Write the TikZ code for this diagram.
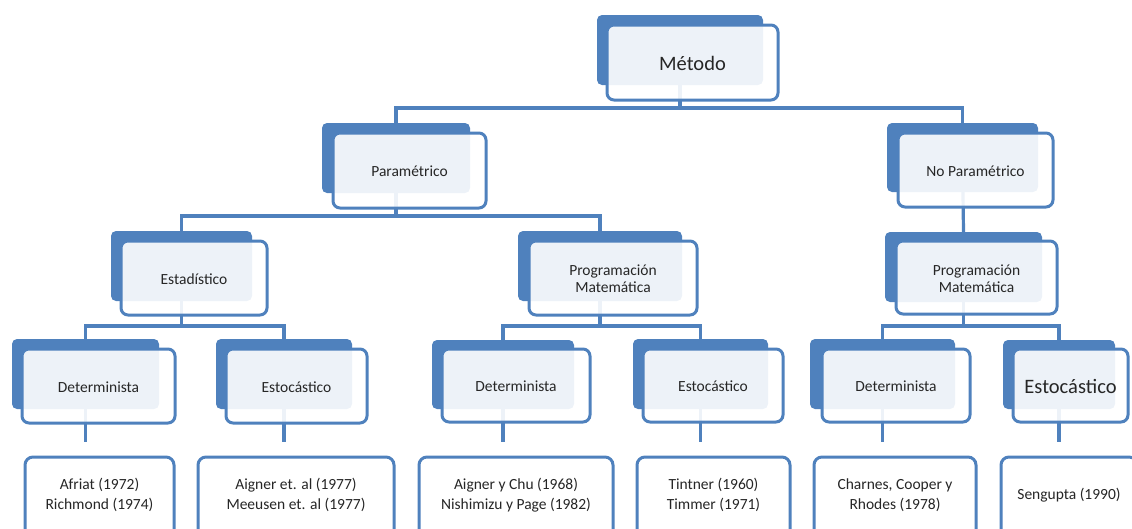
\documentclass[tikz,border=0pt]{standalone}
\usepackage{fontspec}
\setmainfont{Carlito}
\usetikzlibrary{fit,backgrounds}
\definecolor{accent}{HTML}{4F81BD}
\definecolor{ink}{HTML}{262626}
\tikzset{
  backbox/.style={fill=accent,draw=none,rounded corners=5pt,inner sep=0pt},
  frontbox/.style={draw=accent,line width=3pt,fill=white,fill opacity=0.9,
    rounded corners=7pt,inner sep=0pt},
  leafbox/.style={draw=accent,line width=3pt,fill=white,rounded corners=8pt,inner sep=0pt},
  cardtext/.style={text=ink,align=center,inner sep=0pt,yshift=-1pt,
    font=\fontsize{15.5}{17}\selectfont},
  leaftext/.style={text=ink,align=center,inner sep=0pt,yshift=-1pt,
    font=\fontsize{15.5}{20.5}\selectfont},
  bigtext/.style={font=\fontsize{20.5}{24}\selectfont},
  conn/.style={draw=accent,line width=3.2pt}
}
% one card: dark tab behind a translucent white box, text centred on the box
\newcommand\card[5][]{%
  \node[backbox,fit={#3}] (#2b) {};
  \node[frontbox,fit={#4}] (#2) {};
  \node[cardtext,#1] (#2t) at (#2.center) {#5};
}
% one reference box
\newcommand\leaf[3]{%
  \node[leafbox,fit={#2}] (#1) {};
  \node[leaftext] (#1t) at (#1.center |- 0,494) {#3};
}
\begin{document}
\begin{tikzpicture}[x=1pt,y=-1pt]
\useasboundingbox (0,0) rectangle (1132,528);

% root
\card[bigtext]{m}{(597,15)(763,85)}{(607,25)(778,100)}{Método}
% first level
\card{p}{(322,123)(470,193)}{(333,133)(486,208)}{Paramétrico}
\card{np}{(887,123)(1038,192)}{(898,133)(1053,207)}{No Paramétrico}
% second level
\card{e}{(111,231)(252,301)}{(121,241)(267,315)}{Estadístico}
\card{pma}{(518,231)(682,301)}{(529,241)(697,315)}{Programación\\Matemática}
\card{pmb}{(885,232)(1042,302)}{(896,241)(1057,314)}{Programación\\Matemática}
% third level
\card{da}{(12,339)(159,409)}{(22,349)(175,423)}{Determinista}
\card{sa}{(216,339)(352,409)}{(226,349)(367,423)}{Estocástico}
\card{db}{(432,340)(574,409)}{(442,349)(590,422)}{Determinista}
\card{sb}{(633,339)(768,409)}{(643,349)(783,422)}{Estocástico}
\card{dc}{(810,339)(955,409)}{(822,349)(970,422)}{Determinista}
\card[bigtext]{sc}{(1003,340)(1115,409)}{(1013,349)(1128,422)}{Estocástico}

% references
\leaf{la}{(25,457)(174,545)}{Afriat (1972)\\Richmond (1974)}
\leaf{lb}{(198,457)(394,545)}{Aigner et. al (1977)\\Meeusen et. al (1977)}
\leaf{lc}{(419,457)(613,545)}{Aigner y Chu (1968)\\Nishimizu y Page (1982)}
\leaf{ld}{(637,457)(790,545)}{Tintner (1960)\\Timmer (1971)}
\leaf{le}{(814,457)(976,545)}{Charnes, Cooper y\\Rhodes (1978)}
\leaf{lf}{(1001,457)(1137,545)}{Sengupta (1990)}

\begin{scope}[on background layer]
  \draw[conn] (mb.center) |- (pb.north |- 0,108) -- (pb.north);
  \draw[conn] (mb.center) |- (npb.north |- 0,108) -- (npb.north);
  \draw[conn] (pb.center) |- (eb.north |- 0,216) -- (eb.north);
  \draw[conn] (pb.center) |- (pmab.north |- 0,216) -- (pmab.north);
  \draw[conn] (npb.center) -- (pmbb.north);
  \draw[conn] (eb.center) |- (dab.north |- 0,326) -- (dab.north);
  \draw[conn] (eb.center) |- (sab.north |- 0,326) -- (sab.north);
  \draw[conn] (pmab.center) |- (dbb.north |- 0,326) -- (dbb.north);
  \draw[conn] (pmab.center) |- (sbb.north |- 0,326) -- (sbb.north);
  \draw[conn] (pmbb.center) |- (dcb.north |- 0,326) -- (dcb.north);
  \draw[conn] (pmbb.center) |- (scb.north |- 0,326) -- (scb.north);
  \draw[conn] (dab.center) -- ([yshift=14pt]la.north -| dab.center);
  \draw[conn] (sab.center) -- ([yshift=14pt]lb.north -| sab.center);
  \draw[conn] (dbb.center) -- ([yshift=14pt]lc.north -| dbb.center);
  \draw[conn] (sbb.center) -- ([yshift=14pt]ld.north -| sbb.center);
  \draw[conn] (dcb.center) -- ([yshift=14pt]le.north -| dcb.center);
  \draw[conn] (scb.center) -- ([yshift=14pt]lf.north -| scb.center);
\end{scope}
\end{tikzpicture}
\end{document}
